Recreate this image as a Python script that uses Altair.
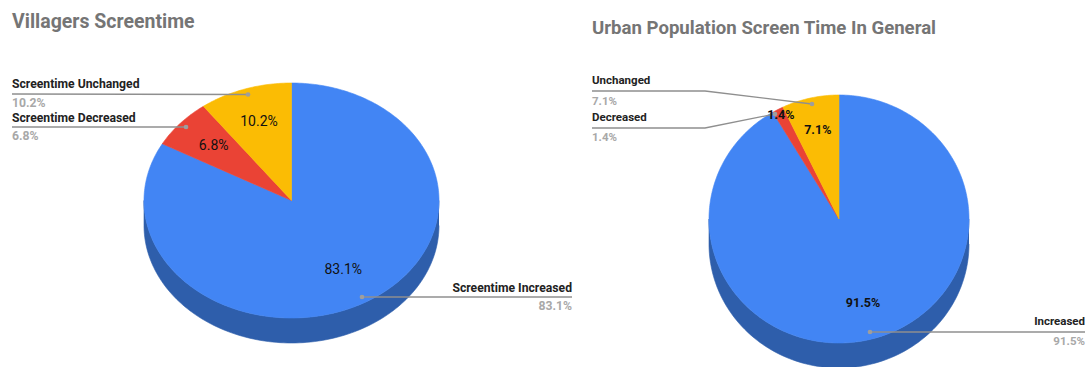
import math
import altair as alt
import pandas as pd

# Survey shares, in percent, listed clockwise from the top after the first slice
villager_names = ["Screentime Increased", "Screentime Decreased", "Screentime Unchanged"]
villager_values = [83.1, 6.8, 10.2]
urban_names = ["Increased", "Decreased", "Unchanged"]
urban_values = [91.5, 1.4, 7.1]
slice_colors = ["#4285f4", "#ea4335", "#fbbc04"]
side_color = "#2e5eab"

W, H = 1088, 367

# Layout of each tilted pie and its callouts
pies = [
    dict(
        title="Villagers Screentime", title_xy=(12, 22), title_size=19.5,
        names=villager_names, values=villager_values,
        cx=291.5, cy=200.5, rx=147.5, ry=117.5, depth=25,
        label_r=[0.69, 0.7, 0.7], label_weight="normal", label_size=14,
        leaders=[
            [(572, 297), (362, 297)],
            [(12, 127), (186, 127)],
            [(12, 94), (248, 94.5)],
        ],
        name_xy=[(572, 288), (12, 118), (12, 84)],
        value_xy=[(572, 306), (12, 136), (12, 103)],
        name_size=12.2,
    ),
    dict(
        title="Urban Population Screen Time In General", title_xy=(592, 28), title_size=18.6,
        names=urban_names, values=urban_values,
        cx=839, cy=219, rx=130, ry=124, depth=25,
        label_r=[0.7, 0.95, 0.737], label_weight="bold", label_size=12.5,
        leaders=[
            [(1085, 332), (870, 332)],
            [(592, 128), (705, 128), (775, 114)],
            [(592, 91), (705, 91), (812, 104)],
        ],
        name_xy=[(1085, 322), (592, 118), (592, 81)],
        value_xy=[(1085, 342), (592, 138), (592, 102)],
        name_size=11.5,
    ),
]
name_aligns = ["right", "left", "left"]


def ellipse_point(pie, fraction, scale=1.0, drop=0.0):
    """Position on the pie face for a clockwise fraction measured from twelve o'clock."""
    a = 2 * math.pi * fraction
    return (
        pie["cx"] + pie["rx"] * scale * math.sin(a),
        pie["cy"] - pie["ry"] * scale * math.cos(a) + drop,
    )


polys, lines, dots, texts, titles = [], [], [], [], []
for p, pie in enumerate(pies):
    # Visible rim: the lower half of the face, repeated lower down and joined up
    rim = [ellipse_point(pie, 0.25 + i / 240) for i in range(121)]
    rim += [ellipse_point(pie, 0.75 - i / 240, drop=pie["depth"]) for i in range(121)]
    for i, (x, y) in enumerate(rim):
        polys.append(dict(key=f"{p}-rim", i=i, x=x, y=y, fill=side_color))

    total = sum(pie["values"])
    start = 0.0
    for s, value in enumerate(pie["values"]):
        share = value / total
        steps = max(2, int(share * 360))
        outline = [(pie["cx"], pie["cy"])]
        outline += [ellipse_point(pie, start + share * k / steps) for k in range(steps + 1)]
        outline.append((pie["cx"], pie["cy"]))
        for i, (x, y) in enumerate(outline):
            polys.append(dict(key=f"{p}-{s}", i=i, x=x, y=y, fill=slice_colors[s]))

        lx, ly = ellipse_point(pie, start + share / 2, scale=pie["label_r"][s])
        texts.append(dict(x=lx, y=ly, text=f"{value}%", color="#111111",
                          size=pie["label_size"], weight=pie["label_weight"], align="center"))
        start += share

        for i, (x, y) in enumerate(pie["leaders"][s]):
            lines.append(dict(key=f"{p}-{s}", i=i, x=x, y=y))
        dots.append(dict(x=pie["leaders"][s][-1][0], y=pie["leaders"][s][-1][1]))

        nx, ny = pie["name_xy"][s]
        vx, vy = pie["value_xy"][s]
        texts.append(dict(x=nx, y=ny, text=pie["names"][s], color="#222222",
                          size=pie["name_size"], weight="bold", align=name_aligns[s]))
        texts.append(dict(x=vx, y=vy, text=f"{value}%", color="#a8a8a8",
                          size=pie["name_size"], weight="bold", align=name_aligns[s]))

    titles.append(dict(x=pie["title_xy"][0], y=pie["title_xy"][1], text=pie["title"],
                       size=pie["title_size"]))

x_enc = alt.X("x:Q", scale=alt.Scale(domain=[0, W]), axis=None)
y_enc = alt.Y("y:Q", scale=alt.Scale(domain=[H, 0]), axis=None)

slices = (
    alt.Chart(pd.DataFrame(polys))
    .mark_line(clip=True, strokeWidth=0.6)
    .encode(
        x=x_enc, y=y_enc,
        detail="key:N",
        order="i:Q",
        fill=alt.Fill("fill:N", scale=None),
        stroke=alt.Stroke("fill:N", scale=None),
    )
)

leader_lines = (
    alt.Chart(pd.DataFrame(lines))
    .mark_line(color="#8f8f8f", strokeWidth=1.3)
    .encode(x=x_enc, y=y_enc, detail="key:N", order="i:Q")
)

leader_dots = (
    alt.Chart(pd.DataFrame(dots))
    .mark_circle(color="#9e9e9e", size=22, opacity=1)
    .encode(x=x_enc, y=y_enc)
)

labels = [
    alt.Chart(pd.DataFrame([t for t in texts if t["align"] == align and t["weight"] == weight]))
    .mark_text(font="Roboto", align=align, baseline="middle", fontWeight=weight)
    .encode(
        x=x_enc, y=y_enc,
        text="text:N",
        color=alt.Color("color:N", scale=None),
        size=alt.Size("size:Q", scale=None),
    )
    for align, weight in [("center", "normal"), ("center", "bold"), ("left", "bold"), ("right", "bold")]
]

title_marks = (
    alt.Chart(pd.DataFrame(titles))
    .mark_text(font="Roboto", align="left", baseline="middle",
               fontWeight="bold", color="#757575")
    .encode(x=x_enc, y=y_enc, text="text:N", size=alt.Size("size:Q", scale=None))
)

chart = (
    alt.layer(slices, leader_lines, leader_dots, *labels, title_marks)
    .properties(width=W, height=H, padding=0, background="white",
                autosize=alt.AutoSizeParams(type="none"))
    .configure_view(stroke=None)
)

chart.save("out.html", embed_options={"renderer": "svg", "actions": False})
